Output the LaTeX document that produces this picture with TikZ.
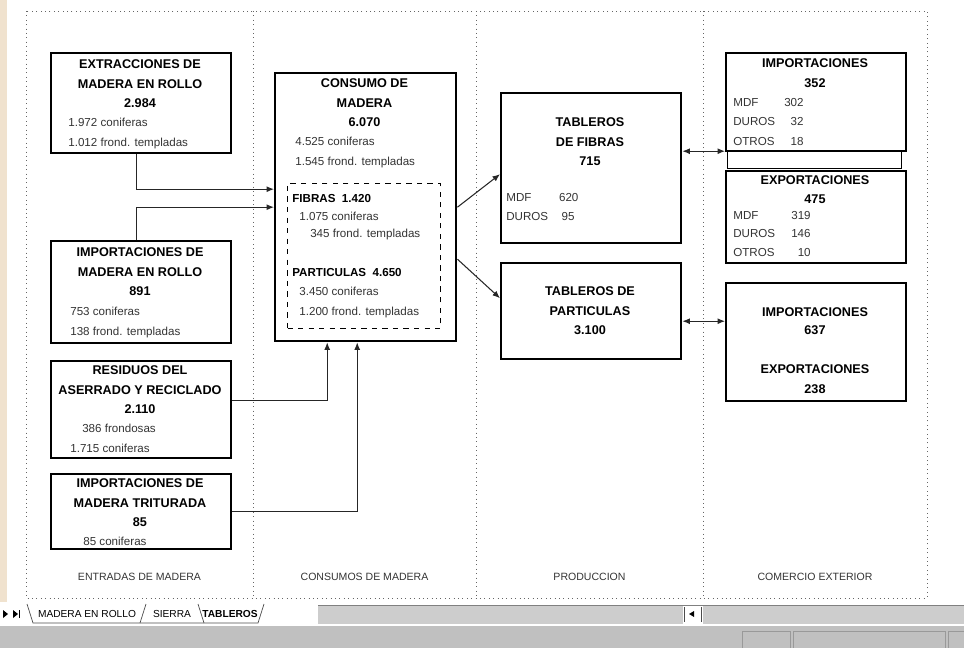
\documentclass[tikz,border=0pt]{standalone}
\usepackage{fontspec}
\setmainfont{Liberation Sans}
\usepackage{tikz}
\usetikzlibrary{arrows.meta, positioning, calc}
\definecolor{sidebeige}{RGB}{240,226,206}
\definecolor{barbg}{RGB}{192,192,192}
\definecolor{tabbg}{RGB}{205,205,205}
\tikzset{
  flowbox/.style  = {draw, line width=1.4pt, inner sep=0pt, anchor=north west},
  inbox/.style    = {draw, dashed, line width=0.6pt, inner sep=0pt, anchor=north west},
  title/.style    = {font=\fontsize{7.2}{11}\selectfont\bfseries, align=center,
                     anchor=north, inner sep=0pt},
  detail/.style   = {font=\fontsize{6.6}{11}\selectfont, text=black!80, align=left,
                     anchor=north west, inner sep=0pt},
  column/.style   = {font=\fontsize{6}{7}\selectfont, text=black!80, inner sep=0pt},
  tablabel/.style = {font=\fontsize{5.8}{7}\selectfont, inner sep=0pt},
  flow/.style     = {-{Latex[length=1.5mm, width=1.2mm]}, line width=0.6pt, black!85},
  trade/.style    = {{Latex[length=1.5mm, width=1.2mm]}-{Latex[length=1.5mm, width=1.2mm]},
                     line width=0.6pt, black!85},
  sheetline/.style = {dotted, black!60, line width=0.5pt},
}

\begin{document}
\begin{tikzpicture}[x=0.02cm, y=-0.02cm]
    \useasboundingbox (0,0) rectangle (964,648);

    % sheet frame and columns
    \fill[sidebeige] (0,0) rectangle (7,602);
    \draw[sheetline] (26,11) rectangle (927,598);
    \foreach \x in {253,476,703}
      \draw[sheetline] (\x,11) -- (\x,598);

    % entradas
    \node[flowbox, minimum width=3.6cm, minimum height=2.0cm] (ext) at (50,52) {};
    \node[title] (extT) at (140,59.5) {EXTRACCIONES DE\\MADERA EN ROLLO\\2.984};
    \node[detail] (extD) at (68,118) {1.972 coniferas\\1.012 frond. templadas};

    \node[flowbox, minimum width=3.6cm, minimum height=2.04cm] (imr) at (50,240) {};
    \node[title] (imrT) at (140,247.5) {IMPORTACIONES DE\\MADERA EN ROLLO\\891};
    \node[detail] (imrD) at (70,307) {753 coniferas\\138 frond. templadas};

    \node[flowbox, minimum width=3.6cm, minimum height=1.94cm] (res) at (50,360) {};
    \node[title] (resT) at (140,365.5) {RESIDUOS DEL\\ASERRADO Y RECICLADO\\2.110};
    \node[detail] (resD) at (70,424) {\hspace*{6.8pt}386 frondosas\\1.715 coniferas};

    \node[flowbox, minimum width=3.6cm, minimum height=1.5cm] (tri) at (50,473) {};
    \node[title] (triT) at (140,478.5) {IMPORTACIONES DE\\MADERA TRITURADA\\85};
    \node[detail] (triD) at (83,537) {85 coniferas};

    % consumo
    \node[flowbox, minimum width=3.62cm, minimum height=5.36cm] (con) at (274,72) {};
    \node[title] (conT) at (364.5,78.5) {CONSUMO DE\\MADERA\\6.070};
    \node[detail] (conD) at (295,137) {4.525 coniferas\\1.545 frond. templadas};
    \node[inbox, minimum width=3.06cm, minimum height=2.9cm] (mix) at (287,183) {};
    \node[detail, font=\fontsize{6.6}{10}\selectfont] (fibD) at (292,194)
      {\textcolor{black}{\bfseries FIBRAS\ \ 1.420}\\\hspace*{4pt}1.075 coniferas\\\hspace*{10.2pt}345 frond. templadas};
    \node[detail] (parD) at (292,268)
      {\textcolor{black}{\bfseries PARTICULAS\ \ 4.650}\\\hspace*{4pt}3.450 coniferas\\\hspace*{4pt}1.200 frond. templadas};

    % produccion
    \node[flowbox, minimum width=3.6cm, minimum height=3.0cm] (fib) at (500,92) {};
    \node[title] (fibT) at (590,117.5) {TABLEROS\\DE FIBRAS\\715};
    \node[detail] (fibN) at (506,193)
      {\makebox[30pt][l]{MDF}620\\\makebox[31.5pt][l]{DUROS}95};

    \node[flowbox, minimum width=3.6cm, minimum height=1.92cm] (par) at (500,262) {};
    \node[title] (parT) at (590,286.5) {TABLEROS DE\\PARTICULAS\\3.100};

    % comercio exterior
    \node[flowbox, minimum width=3.6cm, minimum height=1.96cm] (imp) at (725,52) {};
    \node[title] (impT) at (815,58.5) {IMPORTACIONES\\352};
    \node[detail] (impN) at (733,98)
      {\makebox[26pt][l]{MDF}\makebox[14pt][r]{302}\\
       \makebox[26pt][l]{DUROS}\makebox[14pt][r]{32}\\
       \makebox[26pt][l]{OTROS}\makebox[14pt][r]{18}};
    \node[draw, line width=0.8pt, inner sep=0pt, anchor=north west,
          minimum width=3.48cm, minimum height=0.36cm] (gap) at (727,150) {};

    \node[flowbox, minimum width=3.6cm, minimum height=1.84cm] (exp) at (725,170) {};
    \node[title, font=\fontsize{7.2}{10.8}\selectfont\bfseries] (expT) at (815,175.5) {EXPORTACIONES\\475};
    \node[detail, font=\fontsize{6.6}{10.5}\selectfont] (expN) at (733,211)
      {\makebox[28pt][l]{MDF}\makebox[16pt][r]{319}\\
       \makebox[28pt][l]{DUROS}\makebox[16pt][r]{146}\\
       \makebox[28pt][l]{OTROS}\makebox[16pt][r]{10}};

    \node[flowbox, minimum width=3.6cm, minimum height=2.36cm] (ie) at (725,282) {};
    \node[title, font=\fontsize{7.2}{10.2}\selectfont\bfseries] (ieI) at (815,307.5) {IMPORTACIONES\\637};
    \node[title] (ieE) at (815,364.5) {EXPORTACIONES\\238};

    % connectors
    \draw[flow] ([xshift=-1mm]ext.south) |- ([yshift=3.6mm]con.west);
    \draw[flow] ([xshift=-1mm]imr.north) |- (con.west);
    \draw[flow] ([yshift=1.8mm]res.east) -| ([xshift=-7.7mm]con.south);
    \draw[flow] (tri.east) -| ([xshift=-1.7mm]con.south);
    \draw[flow] (con.east) -- ([yshift=-1.2mm]fib.west);
    \draw[flow] ([yshift=-1.04cm]con.east) -- ([yshift=2.6mm]par.west);
    \draw[trade] ([yshift=3.4mm]fib.east) -- ([yshift=3.4mm]fib.east -| imp.west);
    \draw[trade] ([yshift=-2mm]par.east) -- ([yshift=-2mm]par.east -| ie.west);

    % column titles
    \node[column] (colE) at (139.5,577) {ENTRADAS DE MADERA};
    \node[column] (colC) at (364.5,577) {CONSUMOS DE MADERA};
    \node[column] (colP) at (589.5,577) {PRODUCCION};
    \node[column] (colX) at (815,577) {COMERCIO EXTERIOR};

    % sheet tabs and status bar
    \fill[tabbg] (318,605) rectangle (683,624);
    \fill[tabbg] (703,605) rectangle (964,624);
    \draw[black!50] (318,605) -- (964,605);
    \fill[barbg] (0,626) rectangle (964,648);
    \draw[black!40] (742,631) rectangle (790,648);
    \draw[black!40] (793,631) rectangle (945,648);
    \draw[black!40] (948,631) rectangle (964,648);
    \fill (3,610) -- (8,614) -- (3,618) -- cycle;
    \fill (13,610) -- (18,614) -- (13,618) -- cycle;
    \draw (19.5,610) -- (19.5,618);
    \draw[black!70] (27,604) -- (33,623) -- (258,623) -- (264,604);
    \draw[black!70] (140,623) -- (146,604);
    \draw[black!70] (198,604) -- (204,623);
    \draw[black!70] (684,607) -- (684,622);
    \fill (689,614) -- (694,611) -- (694,617) -- cycle;
    \draw[black!70] (701,607) -- (701,622);
    \node[tablabel] (tabR) at (87,614) {MADERA EN ROLLO};
    \node[tablabel] (tabS) at (172,614) {SIERRA};
    \node[tablabel, font=\fontsize{5.8}{7}\selectfont\bfseries] (tabT) at (230,614) {TABLEROS};
  \end{tikzpicture}
\end{document}
